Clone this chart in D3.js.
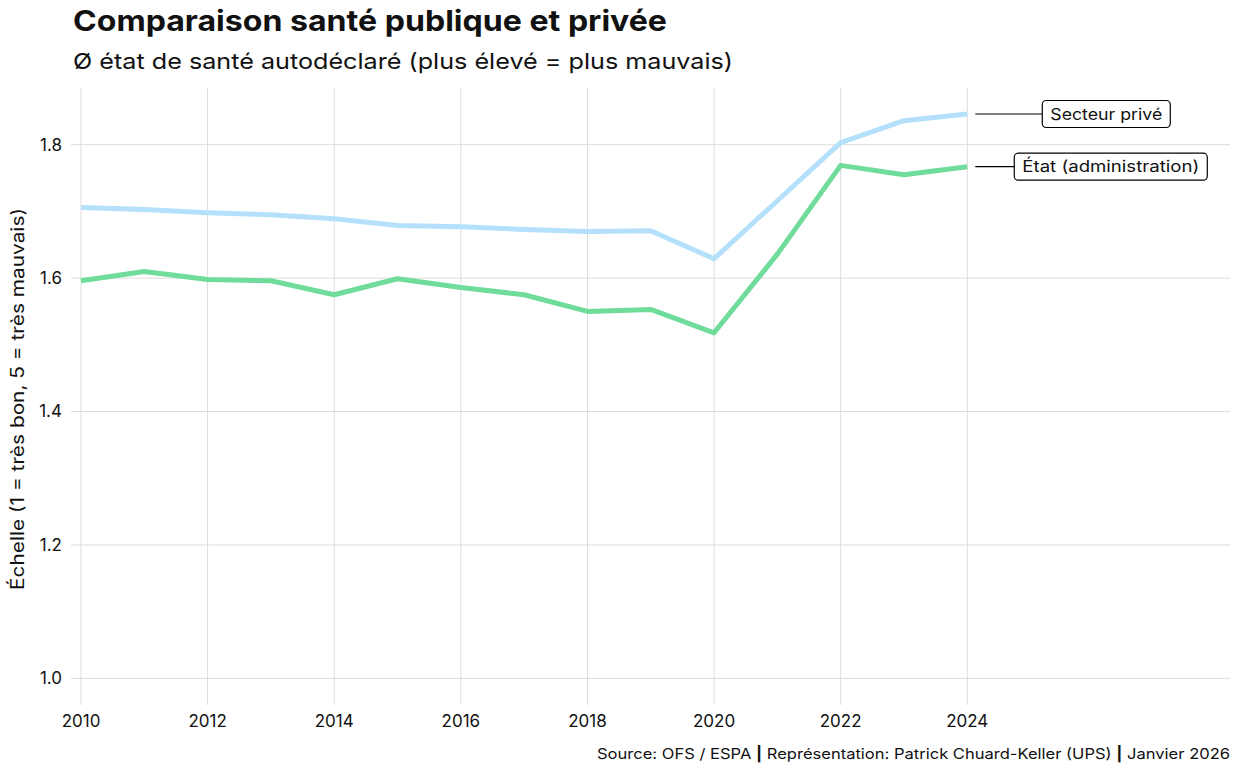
<!DOCTYPE html>
<html>
<head>
<meta charset="utf-8">
<script src="https://cdn.jsdelivr.net/npm/d3@7"></script>
<style>
  body { margin: 0; background: #fff; }
  text { font-family: Inter, Roboto, "Noto Sans", sans-serif; fill: #111; }
</style>
</head>
<body>
<script>
var width = 1240,
    height = 771,
    margin = {top: 88, right: 10, bottom: 66, left: 81};

var years = [2010, 2011, 2012, 2013, 2014, 2015, 2016, 2017, 2018, 2019, 2020, 2021, 2022, 2023, 2024];
var prive = [1.706, 1.703, 1.698, 1.695, 1.689, 1.679, 1.677, 1.673, 1.670, 1.671, 1.629, 1.716, 1.803, 1.836, 1.846];
var etat = [1.596, 1.610, 1.598, 1.596, 1.575, 1.599, 1.586, 1.575, 1.550, 1.553, 1.518, 1.636, 1.769, 1.755, 1.767];
var xTicks = [2010, 2012, 2014, 2016, 2018, 2020, 2022, 2024];
var yTicks = [1.0, 1.2, 1.4, 1.6, 1.8];

var series = [
  {name: "Secteur privé", values: prive, color: "#b5e0fb", labelDx: 75, textLen: 112},
  {name: "État (administration)", values: etat, color: "#70dc9c", labelDx: 47, textLen: 177}
];

var x = d3.scaleLinear()
    .domain([2010, 2028.15])
    .range([margin.left, width - margin.right]);

var y = d3.scaleLinear()
    .domain([0.96, 1.885])
    .range([height - margin.bottom, margin.top]);

var svg = d3.select("body").append("svg")
    .attr("width", width)
    .attr("height", height);

// grille
svg.append("g").selectAll("line")
    .data(yTicks)
    .enter().append("line")
    .attr("x1", margin.left - 10)
    .attr("x2", width - margin.right)
    .attr("y1", function(d) { return y(d); })
    .attr("y2", function(d) { return y(d); })
    .style("stroke", "#dcdcdc")
    .style("stroke-width", 1);

svg.append("g").selectAll("line")
    .data(xTicks)
    .enter().append("line")
    .attr("x1", function(d) { return x(d); })
    .attr("x2", function(d) { return x(d); })
    .attr("y1", margin.top)
    .attr("y2", height - margin.bottom)
    .style("stroke", "#dcdcdc")
    .style("stroke-width", 1);

// labels des axes
svg.append("g").selectAll("text")
    .data(yTicks)
    .enter().append("text")
    .attr("x", margin.left - 19)
    .attr("y", function(d) { return y(d); })
    .attr("dy", "0.35em")
    .attr("text-anchor", "end")
    .style("font-size", "17px")
    .text(function(d) { return d.toFixed(1); });

svg.append("g").selectAll("text")
    .data(xTicks)
    .enter().append("text")
    .attr("x", function(d) { return x(d); })
    .attr("y", height - margin.bottom + 22)
    .attr("text-anchor", "middle")
    .style("font-size", "17px")
    .text(function(d) { return d; });

svg.append("text")
    .attr("transform", "translate(24,399) rotate(-90)")
    .attr("text-anchor", "middle")
    .attr("textLength", 382)
    .attr("lengthAdjust", "spacingAndGlyphs")
    .style("font-size", "18px")
    .text("Échelle (1 = très bon, 5 = très mauvais)");

// lignes
var line = d3.line()
    .x(function(d, i) { return x(years[i]); })
    .y(function(d) { return y(d); });

svg.append("g").selectAll("path")
    .data(series)
    .enter().append("path")
    .attr("d", function(d) { return line(d.values); })
    .style("fill", "none")
    .style("stroke", function(d) { return d.color; })
    .style("stroke-width", 5)
    .style("stroke-linejoin", "round");

// étiquettes directes
var lab = svg.append("g").selectAll("g")
    .data(series)
    .enter().append("g")
    .attr("transform", function(d) {
      var v = d.values[d.values.length - 1];
      return "translate(" + (x(2024) + 8) + "," + y(v) + ")";
    });

lab.append("line")
    .attr("x1", 0)
    .attr("x2", function(d) { return d.labelDx - 8; })
    .style("stroke", "#000")
    .style("stroke-width", 1.2);

lab.append("rect")
    .attr("x", function(d) { return d.labelDx - 8; })
    .attr("y", -13.5)
    .attr("width", function(d) { return d.textLen + 16; })
    .attr("height", 27)
    .attr("rx", 4)
    .style("fill", "#fff")
    .style("stroke", "#000")
    .style("stroke-width", 1.2);

lab.append("text")
    .attr("x", function(d) { return d.labelDx; })
    .attr("dy", "0.36em")
    .attr("textLength", function(d) { return d.textLen; })
    .attr("lengthAdjust", "spacingAndGlyphs")
    .style("font-size", "16px")
    .text(function(d) { return d.name; });

// titres
svg.append("text")
    .attr("x", 73)
    .attr("y", 31)
    .attr("textLength", 594)
    .attr("lengthAdjust", "spacingAndGlyphs")
    .style("font-size", "29px")
    .style("font-weight", "bold")
    .text("Comparaison santé publique et privée");

svg.append("text")
    .attr("x", 73)
    .attr("y", 69)
    .attr("textLength", 660)
    .attr("lengthAdjust", "spacingAndGlyphs")
    .style("font-size", "22px")
    .text("Ø état de santé autodéclaré (plus élevé = plus mauvais)");

var cap = svg.append("text")
    .attr("x", 597)
    .attr("y", 759)
    .attr("textLength", 633)
    .attr("lengthAdjust", "spacingAndGlyphs")
    .style("font-size", "14.5px");
cap.append("tspan").text("Source: OFS / ESPA ");
cap.append("tspan").style("font-weight", "bold").text("|");
cap.append("tspan").text(" Représentation: Patrick Chuard-Keller (UPS) ");
cap.append("tspan").style("font-weight", "bold").text("|");
cap.append("tspan").text(" Janvier 2026");
</script>
</body>
</html>
